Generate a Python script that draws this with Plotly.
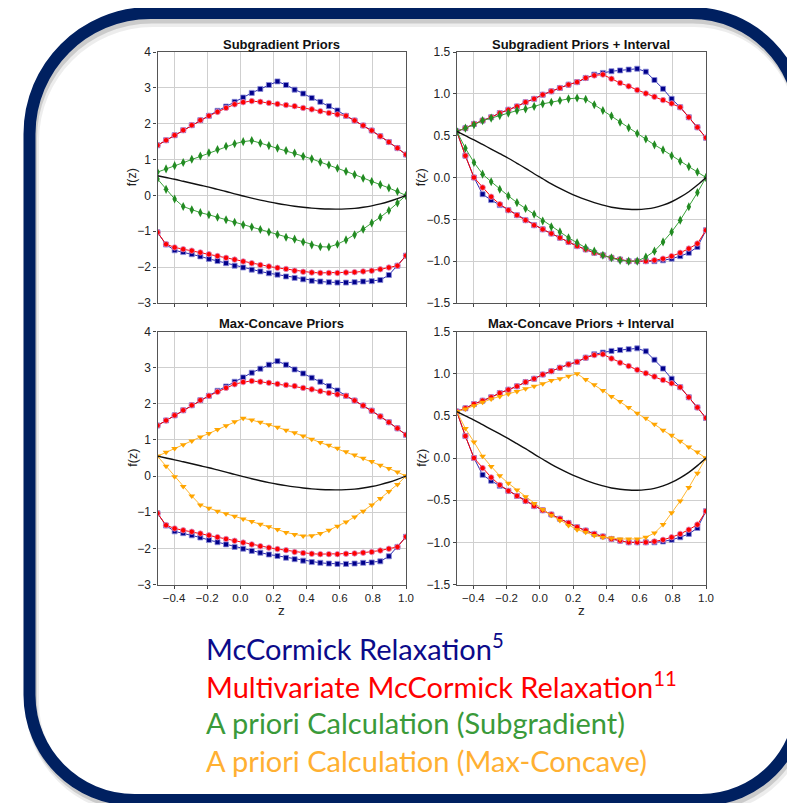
import plotly.graph_objects as go

W, H = 795, 803
# the page body adds an 8px offset; positions below are given in screen pixels
OFF = 8.0

# ---------------- data ----------------
Z = [-0.5, -0.4483, -0.3966, -0.3448, -0.2931, -0.2414, -0.1897, -0.1379, -0.0862, -0.0345,
     0.0172, 0.069, 0.1207, 0.1724, 0.2241, 0.2759, 0.3276, 0.3793, 0.431, 0.4828,
     0.5345, 0.5862, 0.6379, 0.6897, 0.7414, 0.7931, 0.8448, 0.8966, 0.9483, 1.0]

F_TRUE = [0.55, 0.50, 0.45, 0.395, 0.34, 0.285, 0.23, 0.17, 0.11, 0.045,
          -0.015, -0.075, -0.13, -0.18, -0.225, -0.265, -0.30, -0.33, -0.355, -0.37,
          -0.38, -0.382, -0.375, -0.36, -0.33, -0.29, -0.235, -0.17, -0.09, 0.0]

# left column (no interval refinement)
MC_CC_L = [1.40, 1.54, 1.68, 1.82, 1.96, 2.10, 2.22, 2.36, 2.48, 2.61,
           2.73, 2.86, 2.97, 3.08, 3.18, 3.08, 2.95, 2.84, 2.72, 2.61,
           2.49, 2.37, 2.22, 2.09, 1.95, 1.81, 1.65, 1.49, 1.32, 1.14]
MV_CC_L = [1.40, 1.54, 1.68, 1.82, 1.96, 2.10, 2.22, 2.33, 2.44, 2.54,
           2.60, 2.63, 2.61, 2.58, 2.55, 2.52, 2.49, 2.44, 2.40, 2.35,
           2.30, 2.26, 2.22, 2.09, 1.95, 1.81, 1.65, 1.49, 1.32, 1.14]
MC_CV_L = [-1.03, -1.37, -1.53, -1.58, -1.64, -1.70, -1.77, -1.83, -1.89, -1.96,
           -2.01, -2.07, -2.12, -2.17, -2.21, -2.26, -2.30, -2.34, -2.38, -2.40,
           -2.42, -2.43, -2.43, -2.42, -2.40, -2.39, -2.36, -2.22, -1.96, -1.68]
MV_CV_L = [-1.03, -1.36, -1.45, -1.50, -1.54, -1.59, -1.64, -1.69, -1.74, -1.79,
           -1.84, -1.89, -1.94, -1.98, -2.02, -2.05, -2.10, -2.13, -2.15, -2.16,
           -2.16, -2.16, -2.15, -2.14, -2.12, -2.10, -2.06, -2.01, -1.96, -1.68]
SUB_CC_L = [0.65, 0.74, 0.83, 0.92, 1.01, 1.10, 1.19, 1.28, 1.37, 1.44,
            1.50, 1.53, 1.46, 1.39, 1.32, 1.25, 1.18, 1.09, 1.02, 0.93,
            0.85, 0.76, 0.67, 0.58, 0.48, 0.39, 0.30, 0.21, 0.11, 0.0]
SUB_CV_L = [0.46, 0.17, -0.10, -0.31, -0.40, -0.48, -0.54, -0.61, -0.68, -0.75,
            -0.82, -0.88, -0.95, -1.02, -1.09, -1.165, -1.22, -1.30, -1.38, -1.43,
            -1.44, -1.36, -1.24, -1.10, -0.94, -0.77, -0.61, -0.42, -0.21, 0.0]
MAXC_CC_L = [0.55, 0.66, 0.76, 0.87, 0.97, 1.08, 1.18, 1.29, 1.39, 1.50,
             1.60, 1.55, 1.49, 1.42, 1.35, 1.27, 1.20, 1.11, 1.02, 0.93,
             0.85, 0.77, 0.67, 0.58, 0.49, 0.40, 0.30, 0.21, 0.11, 0.0]
MAXC_CV_L = [0.55, 0.27, -0.02, -0.29, -0.55, -0.80, -0.89, -0.97, -1.04, -1.11,
             -1.19, -1.26, -1.33, -1.40, -1.48, -1.56, -1.62, -1.66, -1.65, -1.59,
             -1.50, -1.39, -1.27, -1.13, -0.97, -0.80, -0.62, -0.43, -0.23, 0.0]

# right column (priors + interval)
MC_CC_R = [0.55, 0.59, 0.64, 0.68, 0.72, 0.77, 0.81, 0.85, 0.90, 0.94,
           0.99, 1.03, 1.07, 1.11, 1.14, 1.19, 1.23, 1.25, 1.27, 1.28,
           1.29, 1.30, 1.265, 1.165, 1.06, 0.94, 0.84, 0.72, 0.60, 0.475]
MV_CC_R = [0.55, 0.59, 0.64, 0.68, 0.72, 0.77, 0.81, 0.85, 0.90, 0.94,
           0.99, 1.03, 1.07, 1.11, 1.14, 1.19, 1.22, 1.23, 1.18, 1.13,
           1.09, 1.045, 1.005, 0.965, 0.925, 0.885, 0.84, 0.72, 0.60, 0.475]
MC_CV_R = [0.55, 0.26, 0.0, -0.20, -0.27, -0.33, -0.39, -0.45, -0.51, -0.57,
           -0.62, -0.67, -0.72, -0.77, -0.82, -0.86, -0.90, -0.93, -0.96, -0.98,
           -1.00, -1.00, -1.00, -1.00, -0.99, -0.97, -0.94, -0.90, -0.83, -0.63]
MV_CV_R = [0.55, 0.26, 0.0, -0.12, -0.23, -0.32, -0.39, -0.45, -0.51, -0.57,
           -0.62, -0.67, -0.72, -0.77, -0.82, -0.86, -0.90, -0.93, -0.96, -0.98,
           -1.00, -1.00, -1.00, -0.99, -0.97, -0.94, -0.90, -0.85, -0.79, -0.63]
SUB_CC_R = [0.55, 0.59, 0.63, 0.68, 0.71, 0.74, 0.77, 0.80, 0.82, 0.85,
            0.88, 0.90, 0.92, 0.94, 0.95, 0.935, 0.87, 0.80, 0.735, 0.66,
            0.595, 0.525, 0.46, 0.39, 0.33, 0.26, 0.195, 0.13, 0.065, 0.0]
SUB_CV_R = [0.55, 0.35, 0.18, 0.04, -0.05, -0.14, -0.22, -0.30, -0.37, -0.44,
            -0.52, -0.59, -0.65, -0.72, -0.78, -0.84, -0.88, -0.93, -0.96, -0.99,
            -1.00, -1.00, -0.95, -0.88, -0.77, -0.65, -0.51, -0.35, -0.18, 0.0]
MAXC_CC_R = [0.55, 0.58, 0.62, 0.66, 0.70, 0.73, 0.76, 0.79, 0.82, 0.85,
             0.88, 0.92, 0.94, 0.97, 1.00, 0.93, 0.87, 0.80, 0.73, 0.67,
             0.60, 0.53, 0.47, 0.40, 0.33, 0.27, 0.20, 0.13, 0.07, 0.0]
MAXC_CV_R = [0.55, 0.35, 0.19, 0.02, -0.10, -0.21, -0.30, -0.38, -0.46, -0.54,
             -0.61, -0.68, -0.74, -0.80, -0.85, -0.88, -0.92, -0.94, -0.95, -0.96,
             -0.96, -0.96, -0.94, -0.89, -0.79, -0.65, -0.51, -0.35, -0.18, 0.0]

TITLES = ["Subgradient Priors", "Subgradient Priors + Interval",
          "Max-Concave Priors", "Max-Concave Priors + Interval"]
X_TICKS = [-0.4, -0.2, 0.0, 0.2, 0.4, 0.6, 0.8, 1.0]
X_TICKTEXT = ["\u22120.4", "\u22120.2", "0.0", "0.2", "0.4", "0.6", "0.8", "1.0"]
LEGEND_LINES = ["McCormick Relaxation<sup>5</sup>",
                "Multivariate McCormick Relaxation<sup>11</sup>",
                "A priori Calculation (Subgradient)",
                "A priori Calculation (Max-Concave)"]

# ---------------- styling ----------------
BLUE = "#00008B"
RED = "#FF0000"
GREEN = "#228B22"
ORANGE = "#FFA500"
NAVY_BORDER = "#002060"
LEG_COLORS = ["#0B0B8A", "#FF0000", "#3A9A3A", "#FFB032"]
FONT = "Liberation Sans, Arial, sans-serif"


def px_x(x):
    return (x - OFF) / W


def px_y(y):
    return 1 - (y - OFF) / H


# panel domains in screen pixels
XL = (157.5, 406.0)
XR = (456.8, 706.0)
YT = (52.0, 303.0)
YB = (331.5, 584.5)

panels = [
    dict(x=XL, y=YT, rng=[-3, 4], dtick=1, fmt="d", bottom=False, ylab=24.8),
    dict(x=XR, y=YT, rng=[-1.5, 1.5], dtick=0.5, fmt=".1f", bottom=False, ylab=35.0),
    dict(x=XL, y=YB, rng=[-3, 4], dtick=1, fmt="d", bottom=True, ylab=24.8),
    dict(x=XR, y=YB, rng=[-1.5, 1.5], dtick=0.5, fmt=".1f", bottom=True, ylab=35.0),
]

fig = go.Figure()


def add(panel, y, color, symbol, size, lcolor=None, lw=1.0, mline=None):
    n = "" if panel == 1 else str(panel)
    fig.add_trace(go.Scatter(
        x=Z, y=y, mode="lines+markers", xaxis="x" + n, yaxis="y" + n,
        line=dict(color=lcolor or color, width=lw),
        marker=dict(symbol=symbol, size=size, color=color,
                    line=mline or dict(width=0)),
        showlegend=False, hoverinfo="skip"))


def add_true(panel):
    n = "" if panel == 1 else str(panel)
    fig.add_trace(go.Scatter(
        x=Z, y=F_TRUE, mode="lines", xaxis="x" + n, yaxis="y" + n,
        line=dict(color="#111111", width=1.4, shape="spline"),
        showlegend=False, hoverinfo="skip"))


blue_edge = dict(width=0.8, color="#8c8cd8")
red_edge = dict(width=0.8, color="#d88cc8")

sets = {
    1: (MC_CC_L, MC_CV_L, MV_CC_L, MV_CV_L, SUB_CC_L, SUB_CV_L, GREEN, "diamond-tall"),
    2: (MC_CC_R, MC_CV_R, MV_CC_R, MV_CV_R, SUB_CC_R, SUB_CV_R, GREEN, "diamond-tall"),
    3: (MC_CC_L, MC_CV_L, MV_CC_L, MV_CV_L, MAXC_CC_L, MAXC_CV_L, ORANGE, "triangle-down"),
    4: (MC_CC_R, MC_CV_R, MV_CC_R, MV_CV_R, MAXC_CC_R, MAXC_CV_R, ORANGE, "triangle-down"),
}

for p, (mcc, mcv, vcc, vcv, acc, acv, acol, asym) in sets.items():
    for yy in (mcc, mcv):
        add(p, yy, BLUE, "square", 5, lcolor="#2a2ab0", mline=blue_edge)
    for yy in (vcc, vcv):
        add(p, yy, RED, "circle", 5.5, mline=red_edge)
    for yy in (acc, acv):
        if asym == "diamond-tall":
            add(p, yy, acol, asym, 6.5, lcolor="#3aa03a")
        else:
            add(p, yy, acol, asym, 6, lcolor="#FFB732")
    add_true(p)

layout = dict(
    template="none",
    width=W, height=H, margin=dict(l=0, r=0, t=0, b=0, pad=0, autoexpand=False),
    paper_bgcolor="white", plot_bgcolor="white",
    font=dict(family=FONT, color="#222222"),
    showlegend=False,
)

for i, pn in enumerate(panels, start=1):
    n = "" if i == 1 else str(i)
    layout["xaxis" + n] = dict(
        domain=[px_x(pn["x"][0]), px_x(pn["x"][1])],
        anchor="y" + n, range=[-0.5, 1.0], automargin=False,
        tickvals=X_TICKS, ticktext=X_TICKTEXT,
        showticklabels=pn["bottom"],
        ticks="outside", ticklen=3, tickcolor="#444444",
        showgrid=True, gridcolor="#cfcfcf", gridwidth=1.2,
        showline=True, linecolor="#555555", linewidth=1.2, mirror=True,
        zeroline=False, tickfont=dict(size=11.5, family=FONT, color="#222222"),
    )
    layout["yaxis" + n] = dict(
        domain=[px_y(pn["y"][1]), px_y(pn["y"][0])],
        anchor="x" + n, range=pn["rng"], dtick=pn["dtick"], tickformat=pn["fmt"],
        automargin=False,
        ticks="outside", ticklen=3, tickcolor="#444444",
        showgrid=True, gridcolor="#cfcfcf", gridwidth=1.2,
        showline=True, linecolor="#555555", linewidth=1.2, mirror=True,
        zeroline=False, tickfont=dict(size=12, family=FONT, color="#222222"),
    )

annotations = []
title_y = [44.3, 44.3, 323.5, 323.5]
for i, (pn, t) in enumerate(zip(panels, TITLES)):
    annotations.append(dict(
        text="<b>" + t + "</b>", xref="paper", yref="paper",
        x=px_x((pn["x"][0] + pn["x"][1]) / 2), y=px_y(title_y[i]),
        xanchor="center", yanchor="middle", showarrow=False,
        font=dict(size=13, family=FONT, color="#111111")))
    annotations.append(dict(
        text="f(z)", xref="paper", yref="paper",
        x=px_x(pn["x"][0] - pn["ylab"]), y=px_y((pn["y"][0] + pn["y"][1]) / 2),
        xanchor="center", yanchor="middle", showarrow=False, textangle=-90,
        font=dict(size=12.5, family=FONT, color="#222222")))
    if pn["bottom"]:
        annotations.append(dict(
            text="z", xref="paper", yref="paper",
            x=px_x((pn["x"][0] + pn["x"][1]) / 2), y=px_y(610),
            xanchor="center", yanchor="middle", showarrow=False,
            font=dict(size=13.5, family=FONT, color="#222222")))

leg_y = [647, 685, 722, 760]
for txt, col, yy in zip(LEGEND_LINES, LEG_COLORS, leg_y):
    annotations.append(dict(
        text=txt, xref="paper", yref="paper", x=px_x(204), y=px_y(yy),
        xanchor="left", yanchor="middle", showarrow=False,
        font=dict(size=29, family="Lato, Open Sans, sans-serif", color=col)))

layout["annotations"] = annotations


# rounded frame (cubic bezier corners)
def rounded_path(L, T, R, B, rtl, rtr, rbr, rbl, dx=0.0, dy=0.0):
    k = 0.5523
    L, R = L + dx, R + dx
    T, B = T + dy, B + dy

    def p(x, y):
        return f"{px_x(x):.5f},{px_y(y):.5f}"
    return (
        f"M {p(L + rtl, T)} L {p(R - rtr, T)} "
        f"C {p(R - rtr + k * rtr, T)} {p(R, T + rtr - k * rtr)} {p(R, T + rtr)} "
        f"L {p(R, B - rbr)} "
        f"C {p(R, B - rbr + k * rbr)} {p(R - rbr + k * rbr, B)} {p(R - rbr, B)} "
        f"L {p(L + rbl, B)} "
        f"C {p(L + rbl - k * rbl, B)} {p(L, B - rbl + k * rbl)} {p(L, B - rbl)} "
        f"L {p(L, T + rtl)} "
        f"C {p(L, T + rtl - k * rtl)} {p(L + rtl - k * rtl, T)} {p(L + rtl, T)} Z"
    )


FR = (29.5, 13.0, 801.0, 800.0, 121, 110, 100, 105)
shapes = [
    dict(type="path", xref="paper", yref="paper",
         path=rounded_path(*FR, dx=2.5, dy=7.0),
         line=dict(color="rgba(0,0,0,0.07)", width=14), layer="below"),
    dict(type="path", xref="paper", yref="paper",
         path=rounded_path(*FR, dx=1.5, dy=4.5),
         line=dict(color="rgba(0,0,0,0.14)", width=12), layer="below"),
    dict(type="path", xref="paper", yref="paper",
         path=rounded_path(*FR),
         line=dict(color=NAVY_BORDER, width=12), layer="below"),
]
layout["shapes"] = shapes

fig.update_layout(**layout)
fig.write_html("out.html")
